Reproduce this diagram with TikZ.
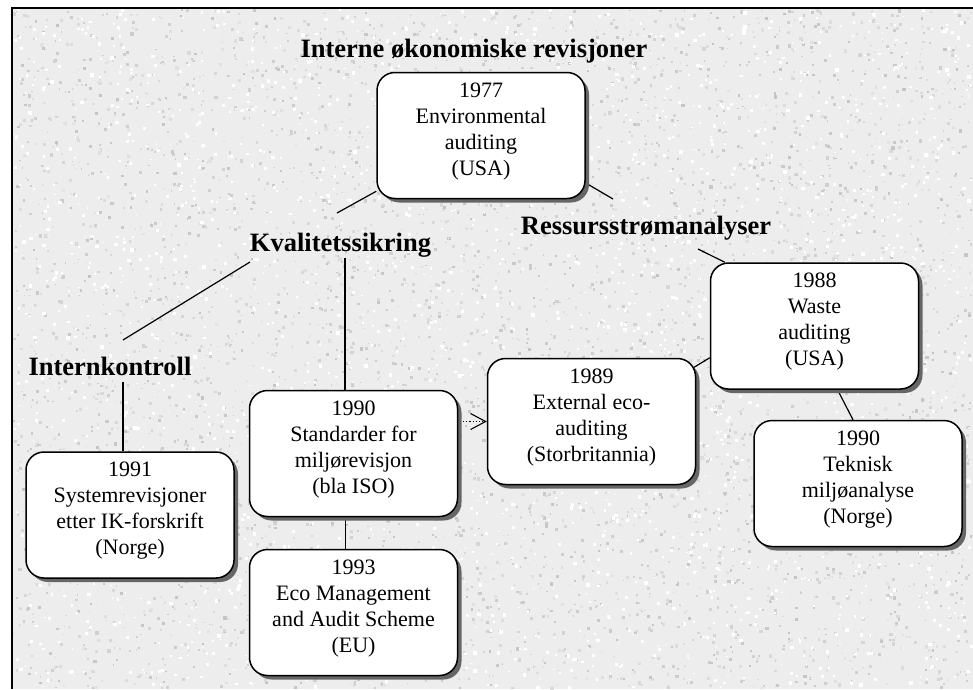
\documentclass[tikz,border=0pt]{standalone}
\usepackage{fontspec}
\setmainfont{Liberation Serif}
\usetikzlibrary{shadows,arrows.meta}
\pgfdeclarelayer{front}
\pgfsetlayers{main,front}
\tikzset{
  eventbox/.style={draw, line width=1.5pt, fill=white, rounded corners=18pt,
    minimum width=208pt, minimum height=126pt, inner sep=0pt, align=center,
    text depth=13pt,
    font=\fontsize{22}{26}\selectfont,
    drop shadow={shadow xshift=4pt, shadow yshift=-4pt, fill=black!60, opacity=1}},
  headlabel/.style={anchor=base, inner sep=0pt, font=\fontsize{26.5}{30}\selectfont\bfseries},
  link/.style={line width=1.2pt},
}
\begin{document}
\begin{tikzpicture}[x=1pt,y=-1pt]
\useasboundingbox (0,0) rectangle (973,689);

% granite backdrop inside the frame
\fill[black!7] (12,8) rectangle (973,689);
\pgfmathsetseed{4711}
\foreach \i in {1,...,5000}{
  \pgfmathsetmacro\px{13+958*rnd}
  \pgfmathsetmacro\py{9+678*rnd}
  \pgfmathsetmacro\pw{1.2+2.2*rnd}
  \pgfmathsetmacro\pg{11+12*rnd}
  \fill[black!\pg] (\px,\py) rectangle +(\pw,\pw);
}
\foreach \i in {1,...,2500}{
  \pgfmathsetmacro\px{13+958*rnd}
  \pgfmathsetmacro\py{9+678*rnd}
  \pgfmathsetmacro\pw{1.2+2.4*rnd}
  \fill[white] (\px,\py) rectangle +(\pw,\pw);
}
\draw[line width=2pt] (12,689) -- (12,8) -- (973,8);

\begin{pgfonlayer}{front}
% headings
\node[headlabel] (interne) at (474,57) {Interne økonomiske revisjoner};
\node[headlabel] (kval) at (340.5,251) {Kvalitetssikring};
\node[headlabel] (ress) at (646,234) {Ressursstrømanalyser};
\node[headlabel] (intk) at (110,375) {Internkontroll};

% events
\node[eventbox] (e1977) at (481,135.5) {1977\\Environmental\\auditing\\(USA)};
\node[eventbox] (e1988) at (814.5,326) {1988\\Waste\\auditing\\(USA)};
\node[eventbox] (e1989) at (591.5,421.5) {1989\\External eco-\\auditing\\(Storbritannia)};
\node[eventbox] (e1990s) at (353.5,453.5) {1990\\Standarder for\\miljørevisjon\\(bla ISO)};
\node[eventbox] (e1993) at (353.5,612.5) {1993\\Eco Management\\and Audit Scheme\\(EU)};
\node[eventbox] (e1991) at (130,515) {1991\\Systemrevisjoner\\etter IK-forskrift\\(Norge)};
\node[eventbox] (e1990t) at (858,483.5) {1990\\Teknisk\\miljøanalyse\\(Norge)};
\end{pgfonlayer}

% free ends of the links near the headings
\coordinate (kvalUp) at (337,213);
\coordinate (ressUp) at (613,199);
\coordinate (ressDown) at (698,249);
\coordinate (kvalLeft) at (250,262);
\coordinate (intkUp) at (123,340);
\coordinate (intkDown) at (123,382);
\coordinate (kvalDown) at (345,258);

% links, under the boxes
\draw[link] ([yshift=8pt]e1977.south west) -- (kvalUp);
\draw[link] ([yshift=-47.5pt]e1977.east) -- (ressUp);
\draw[link] (ressDown) -- ([xshift=15pt]e1988.north west);
\draw[link] ([yshift=32pt]e1988.south west) -- ([xshift=-3pt,yshift=-10pt]e1989.north east);
\draw[link] ([xshift=23pt]e1988.south) -- ([xshift=-5pt]e1990t.north);
\draw[link] (kvalLeft) -- (intkUp);
\draw[link] (intkDown) -- (intkDown |- e1991.north);
\draw[link] (kvalDown) -- (kvalDown |- e1990s.north);
\draw[link] ([xshift=-8pt]e1990s.south) -- ([xshift=-8pt]e1993.north);
\draw[line width=1.1pt, dotted, -{Straight Barb[length=15pt,width=16pt,line width=1.1pt]}]
  ([xshift=5pt]e1990s.east |- e1989.west) -- (e1989.west);
\end{tikzpicture}
\end{document}
